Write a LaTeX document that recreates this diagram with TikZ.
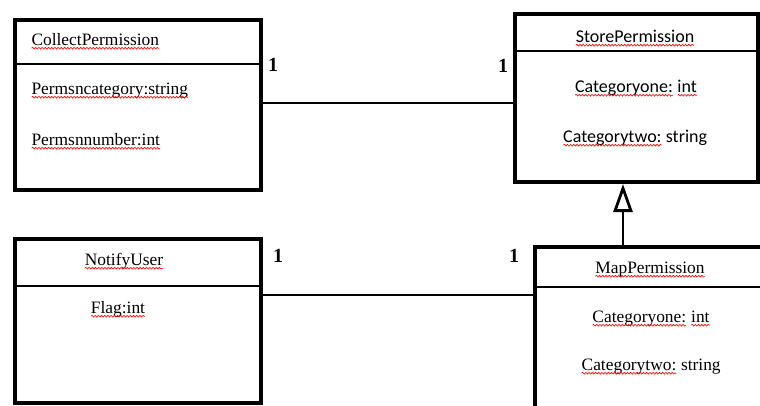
\documentclass[tikz,border=0pt]{standalone}
\usepackage{fontspec}
\setmainfont{Liberation Serif}
\newfontfamily\calibri{Carlito}
\usetikzlibrary{arrows.meta,decorations.pathmorphing}
% red wavy underline, as a spell checker marks a word
\newcommand\spell[1]{\tikz[baseline=0pt]{%
  \node[inner sep=0pt, outer sep=0pt, anchor=base west] (sq) at (0pt,0pt) {#1};%
  \draw[red, line width=0.6pt, decorate, decoration={snake, amplitude=0.9pt, segment length=3.2pt}]
    ([yshift=-3.2pt]sq.base west) -- ([yshift=-3.2pt]sq.base east);}}
\tikzset{
  umlbox/.style={draw=black, line width=4pt, fill=white, rectangle, inner sep=0pt, anchor=north west},
  divider/.style={draw=black, line width=1.3pt},
  link/.style={draw=black, line width=1.2pt},
  sertext/.style={font=\fontsize{17.4}{20}\selectfont, anchor=base, inner sep=0pt, text=black},
  sanstext/.style={font=\calibri\fontsize{18}{21}\selectfont, anchor=base, inner sep=0pt, text=black},
  mult/.style={font=\bfseries\fontsize{20}{22}\selectfont, anchor=base, inner sep=0pt}
}
\begin{document}
\begin{tikzpicture}[x=1pt, y=-1pt]
\useasboundingbox (0,0) rectangle (760,405);
\clip (0,0) rectangle (760,405);

% class boxes
\node[umlbox, minimum width=246pt, minimum height=170pt] (cp) at (13,18) {};
\node[umlbox, minimum width=243pt, minimum height=168pt] (sp) at (513,12) {};
\node[umlbox, minimum width=246pt, minimum height=164pt] (nu) at (13,237) {};
\node[umlbox, minimum width=260pt, minimum height=190pt] (mp) at (533,245) {};

% compartment dividers
\draw[divider] (cp.west |- 0,64) -- (cp.east |- 0,64);
\draw[divider] (sp.west |- 0,51) -- (sp.east |- 0,51);
\draw[divider] (nu.west |- 0,286) -- (nu.east |- 0,286);
\draw[divider] (mp.west |- 0,287) -- (mp.east |- 0,287);

% CollectPermission
\node[sertext, anchor=base west] (cpname) at (31,45) {\spell{CollectPermission}};
\node[sertext, anchor=base west] (cpa1) at (31,94) {\spell{Permsncategory:string}};
\node[sertext, anchor=base west] (cpa2) at (31,145) {\spell{Permsnnumber:int}};

% StorePermission
\node[sanstext] (spname) at (635,42) {\spell{StorePermission}};
\node[sanstext] (spa1) at (636,92) {\spell{Categoryone:} \spell{int}};
\node[sanstext] (spa2) at (635,142) {\spell{Categorytwo:} string};

% NotifyUser
\node[sertext] (nuname) at (124,265) {\spell{NotifyUser}};
\node[sertext] (nua1) at (118,313) {\spell{Flag:int}};

% MapPermission
\node[sertext] (mpname) at (650,273) {\spell{MapPermission}};
\node[sertext] (mpa1) at (651,322) {\spell{Categoryone:} \spell{int}};
\node[sertext] (mpa2) at (651,370) {\spell{Categorytwo:} string};

% associations
\draw[link] (cp.east |- 0,103) -- (sp.west |- 0,103);
\draw[link] (nu.east |- 0,295) -- (mp.west |- 0,295);

% multiplicities
\node[mult] (m1) at (273,71) {1};
\node[mult] (m2) at (503,72) {1};
\node[mult] (m3) at (278,262) {1};
\node[mult] (m4) at (514,262) {1};

% generalization
\draw[link, -{Triangle[open, length=28pt, width=19pt, line width=2.8pt]}]
  (mp.north -| 623,0) -- (sp.south -| 623,0);
\end{tikzpicture}
\end{document}
